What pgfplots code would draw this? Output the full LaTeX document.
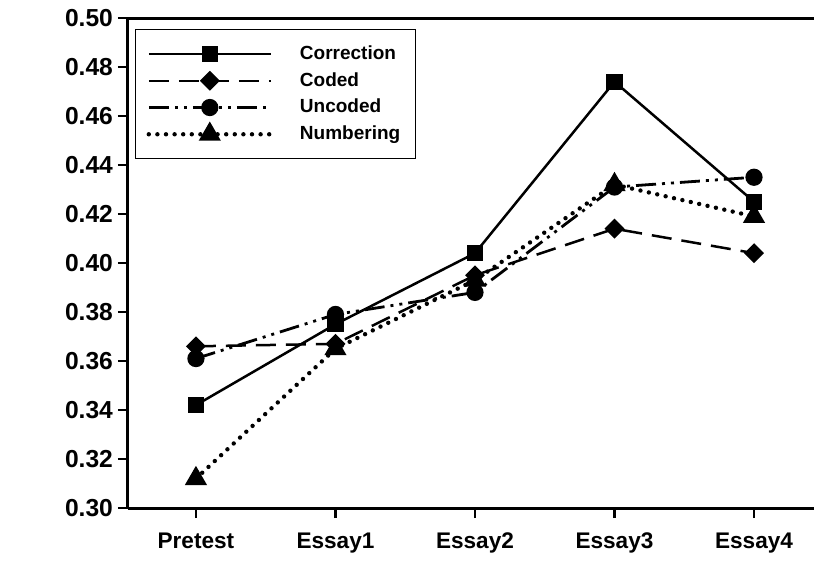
\documentclass[border=0pt]{standalone}
\usepackage{fontspec}
\setmainfont{Liberation Sans}
\usepackage{pgfplots}
\pgfplotsset{compat=1.18}
\begin{document}
\begin{tikzpicture}[x=1pt,y=1pt]
\path[use as bounding box] (-64,-33) rectangle (343,254);
\begin{axis}[
  at={(0,0)}, anchor=south west,
  scale only axis, width=343pt, height=245pt,
  xmin=-0.487, xmax=4.43, ymin=0.30, ymax=0.50,
  axis x line=box, axis y line=left,
  axis line style={line width=1.5pt,-},
  xtick={0,1,2,3,4}, xticklabels={Pretest,Essay1,Essay2,Essay3,Essay4},
  ytick={0.30,0.32,0.34,0.36,0.38,0.40,0.42,0.44,0.46,0.48,0.50},
  xtick pos=bottom, ytick pos=left,
  tick align=outside, major tick length=5pt,
  tick style={line width=1.2pt, black},
  yticklabel style={font=\fontsize{12.3}{14}\selectfont\bfseries, xshift=1pt,
    /pgf/number format/.cd, fixed, fixed zerofill, precision=2, assume math mode=true},
  xticklabel style={font=\fontsize{11.3}{13}\selectfont\bfseries, yshift=-4pt},
  clip=false,
  legend style={at={(rel axis cs:0,1)}, xshift=3.5pt, yshift=-5.5pt, anchor=north west,
    draw=black, line width=0.6pt, inner xsep=5.5pt, inner ysep=5.5pt,
    font=\fontsize{9.5}{11}\selectfont\bfseries,
    nodes={inner ysep=2.5pt},
    /tikz/every odd column/.append style={column sep=11.5pt}},
  legend cell align=left,
  legend image code/.code={\draw[mark repeat=2,mark phase=2] plot coordinates {(0pt,0pt) (30.5pt,0pt) (61pt,0pt)};},
]
\addplot[black, line width=1.25pt, mark=square*, mark size=3.4pt, mark options={solid}]
  coordinates {(0,0.342) (1,0.375) (2,0.404) (3,0.474) (4,0.425)};
\addlegendentry{Correction\hspace{5pt}}
\addplot[black, line width=1.25pt, dash pattern=on 10pt off 5pt, mark=square*, mark size=2.9pt, mark options={solid, rotate=45}]
  coordinates {(0,0.366) (1,0.367) (2,0.395) (3,0.414) (4,0.404)};
\addlegendentry{Coded}
\addplot[black, line width=1.4pt, dash pattern=on 10pt off 3pt on 1.5pt off 3pt on 1.5pt off 3pt, mark=*, mark size=3.6pt, mark options={solid}]
  coordinates {(0,0.361) (1,0.379) (2,0.388) (3,0.431) (4,0.435)};
\addlegendentry{Uncoded}
\addplot[black, line width=2.2pt, line cap=round, dash pattern=on 0pt off 4.3pt, mark=triangle*, mark size=4.2pt, mark options={solid}]
  coordinates {(0,0.312) (1,0.365) (2,0.393) (3,0.432) (4,0.419)};
\addlegendentry{Numbering}
\end{axis}
\end{tikzpicture}
\end{document}
